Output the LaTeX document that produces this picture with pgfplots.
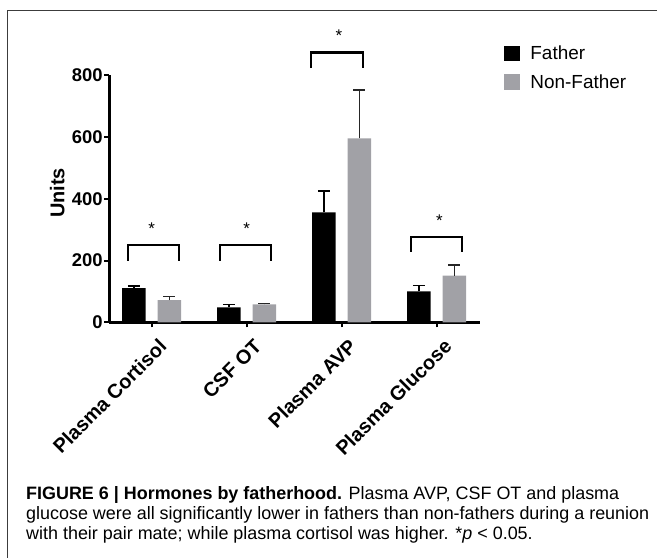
\documentclass[border=0pt]{standalone}
\usepackage{fontspec}
\setmainfont{Liberation Sans}
\usepackage{pgfplots}
\pgfplotsset{compat=1.18}
\usepackage{pgfplotstable}
\definecolor{nfgray}{RGB}{161,161,166}
\definecolor{framegray}{RGB}{60,60,60}

\pgfplotstableread{
x y e
0 111 7
1 48.6 8.5
2 356 70
3 100 18.5
}\father
\pgfplotstableread{
x y e
0 72 11
1 58.3 3
2 596 156
3 151 34
}\nonfather

\begin{document}
\begin{tikzpicture}
\path[use as bounding box] (0,0) rectangle (657bp,-558bp);
\draw[framegray, line width=1bp] (7.5bp,-558bp) -- (7.5bp,-10.7bp) -- (657bp,-10.7bp);
\begin{axis}[
 at={(109.3bp,-322.3bp)}, anchor=south west,
 scale only axis, width=370.7bp, height=247bp,
 xmin=-0.446, xmax=3.456, ymin=0, ymax=800,
 axis lines=left, axis line style={-, line width=2.5bp},
 clip=false,
 xtick={0,1,2,3}, xticklabels={Plasma Cortisol, CSF OT, Plasma AVP, Plasma Glucose},
 ytick={0,200,400,600,800},
 tick align=outside, major tick length=5bp,
 tick style={line width=2bp, black},
 /pgf/number format/assume math mode=true,
 yticklabel style={font=\bfseries\fontsize{18.5}{18.5}\selectfont, inner sep=1.5bp},
 xticklabel style={font=\bfseries\fontsize{20}{20}\selectfont, rotate=45, anchor=east, inner sep=0bp, yshift=-19bp, xshift=-3bp},
 ylabel={Units},
 ylabel style={font=\bfseries\fontsize{20}{20}\selectfont, at={(axis description cs:-0.1214,0.5235)}, anchor=base, inner sep=0pt},
 legend style={at={(axis description cs:1.0648,1.1198)}, anchor=north west, draw=none, fill=none, inner sep=0pt,
   font=\fontsize{19}{19}\selectfont, row sep=13bp, column sep=10.7bp, nodes={inner sep=0pt}},
 legend cell align=left,
 legend image code/.code={\fill[#1] (0bp,-7.75bp) rectangle (15.5bp,7.75bp);},
]
\addplot[ybar, bar width=23.5bp, bar shift=0pt, fill=black, draw=none,
  error bars/.cd, y dir=plus, y explicit,
  error bar style={line width=1.5bp, black},
  error mark options={rotate=90, mark size=6bp, line width=1.5bp, black}]
  table[x expr=\thisrow{x}-0.1868, y=y, y error=e] {\father};
\addlegendentry{Father}
\addplot[ybar, bar width=23.5bp, bar shift=0pt, fill=nfgray, draw=none,
  error bars/.cd, y dir=plus, y explicit,
  error bar style={line width=1.5bp, black!85},
  error mark options={rotate=90, mark size=6bp, line width=1.5bp, black!85}]
  table[x expr=\thisrow{x}+0.1868, y=y, y error=e] {\nonfather};
\addlegendentry{Non-Father}
% significance brackets
\addplot[black, line width=2.2bp, mark=none, forget plot] coordinates {(-0.246,200) (-0.246,250) (0.287,250) (0.287,200)};
\addplot[black, line width=2.2bp, mark=none, forget plot] coordinates {(0.719,200) (0.719,250) (1.253,250) (1.253,200)};
\addplot[black, line width=2.2bp, mark=none, forget plot] coordinates {(1.674,823) (1.674,874) (2.221,874) (2.221,823)};
\addplot[black, line width=2.2bp, mark=none, forget plot] coordinates {(2.729,229) (2.729,277) (3.263,277) (3.263,229)};
\node[font=\fontsize{17}{17}\selectfont, anchor=base, inner sep=0pt] at (axis cs:0.0,286) {*};
\node[font=\fontsize{17}{17}\selectfont, anchor=base, inner sep=0pt] at (axis cs:1.0,286) {*};
\node[font=\fontsize{17}{17}\selectfont, anchor=base, inner sep=0pt] at (axis cs:1.97,910) {*};
\node[font=\fontsize{17}{17}\selectfont, anchor=base, inner sep=0pt] at (axis cs:3.03,311) {*};
\end{axis}
\node[anchor=base west, inner sep=0pt, font=\fontsize{18}{18}\selectfont] at (26bp,-499.3bp) {\textbf{FIGURE 6 | Hormones by fatherhood.} Plasma AVP, CSF OT and plasma};
\node[anchor=base west, inner sep=0pt, font=\fontsize{18}{18}\selectfont] at (26bp,-519.5bp) {glucose were all significantly lower in fathers than non-fathers during a reunion};
\node[anchor=base west, inner sep=0pt, font=\fontsize{18}{18}\selectfont] at (26bp,-539.5bp) {with their pair mate; while plasma cortisol was higher. *\textit{p} {<} 0.05.};
\end{tikzpicture}
\end{document}
